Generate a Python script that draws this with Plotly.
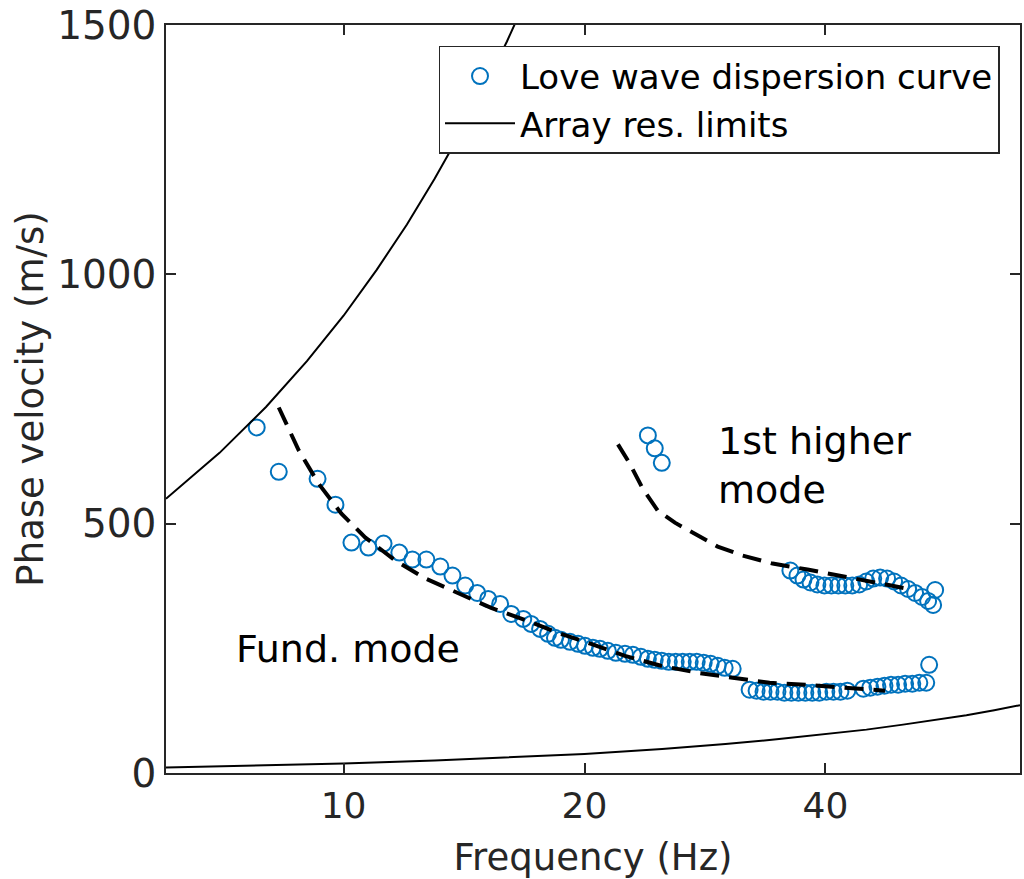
import plotly.graph_objects as go

# ---- data ----
# Love wave dispersion curve, fundamental mode (frequency Hz, phase velocity m/s)
fund_freq = [7.79, 8.30, 9.28, 9.77, 10.23, 10.74, 11.22, 11.74, 12.19, 12.69, 13.21,
             13.68, 14.19, 14.69, 15.16, 15.69, 16.20, 16.77, 17.15, 17.60, 18.01,
             18.37, 18.69, 19.18, 19.63, 20.03, 20.49, 20.91, 21.39, 21.89, 22.47,
             22.99, 23.52, 24.00, 24.48, 24.98, 25.49, 26.00, 26.53, 27.07, 27.62,
             28.18, 28.75, 29.34, 29.93, 30.63,
             32.16, 32.81, 33.47, 34.15, 34.84, 35.54, 36.26, 37.00, 37.75, 38.51,
             39.29, 40.10, 40.93, 41.76, 42.60,
             44.6, 45.5, 46.45, 47.4, 48.3, 49.3, 50.3, 51.35, 52.4, 53.45, 53.9]
fund_vel = [693, 604, 590, 538, 462, 452, 460, 442, 428, 428, 414,
            396, 376, 361, 349, 339, 319, 309, 299, 289, 279,
            271, 267, 263, 259, 255, 251, 249, 245, 241, 239,
            237, 233, 229, 227, 225, 223, 223, 223, 223, 223,
            221, 219, 215, 211, 209,
            167, 165, 163, 163, 163, 161, 161, 161, 161, 161,
            161, 163, 163, 163, 165,
            169, 171, 173, 175, 177, 177, 179, 179, 181, 181, 217]

# Love wave dispersion curve, 1st higher mode
high_freq = [24.0, 24.48, 24.98,
             36.16, 36.9, 37.55, 38.31, 39.08, 39.88, 40.69, 41.51, 42.35, 43.21,
             44.08, 44.98, 45.89, 46.82, 47.76, 48.73, 49.72, 50.74, 51.77, 52.82,
             53.74, 54.52, 54.84]
high_vel = [677, 651, 622,
            406, 396, 388, 382, 378, 376, 376, 376, 376, 376,
            378, 384, 390, 392, 390, 384, 376, 369, 361, 353,
            345, 337, 367]

# Theoretical (dashed) mode curves
fund_model_freq = [8.30, 8.79, 9.31, 9.94, 10.65, 11.61, 12.66, 13.91, 15.29, 16.86,
                   18.53, 20.38, 22.47, 24.92, 27.70, 30.63, 34.06, 37.75, 41.76, 47.5]
fund_model_vel = [733, 647, 580, 520, 472, 426, 390, 361, 331, 307,
                  281, 259, 235, 215, 201, 191, 181, 177, 171, 165]
high_model_freq = [22.02, 22.79, 23.65, 24.70, 25.94, 27.54, 29.34, 31.52, 34.36,
                   37.99, 42.0, 46.45, 50.88]
high_model_vel = [659, 620, 570, 526, 502, 478, 454, 436, 420, 408, 394, 380, 369]

# Array resolution limits
upper_lim_freq = [6, 7, 8, 9, 10, 11, 12, 13, 14, 15, 16, 16.4]
upper_lim_vel = [550, 642, 734, 826, 917, 1009, 1100, 1192, 1284, 1376, 1467, 1505]
lower_lim_freq = [6, 8, 10, 13, 16, 20, 25, 30, 35, 40, 45, 50, 55, 60, 65, 70]
lower_lim_vel = [11, 15, 19, 25, 31, 38, 48, 58, 68, 78, 87, 97, 107, 116, 126, 136]

x_ticks = [10, 20, 40]
y_ticks = [0, 500, 1000, 1500]

BLUE = "#0072BD"
FONT = "DejaVu Sans"
AX = "#262626"

fig = go.Figure()

circle = dict(symbol="circle-open", size=16, color=BLUE, line=dict(width=2, color=BLUE))

fig.add_trace(go.Scatter(x=fund_freq, y=fund_vel, mode="markers", marker=circle,
                         name="Love wave dispersion curve", legendgroup="data"))
fig.add_trace(go.Scatter(x=high_freq, y=high_vel, mode="markers", marker=circle,
                         name="Love wave dispersion curve", legendgroup="data",
                         showlegend=False))
fig.add_trace(go.Scatter(x=upper_lim_freq, y=upper_lim_vel, mode="lines",
                         line=dict(color="black", width=2),
                         name="Array res. limits", legendgroup="lim"))
fig.add_trace(go.Scatter(x=lower_lim_freq, y=lower_lim_vel, mode="lines",
                         line=dict(color="black", width=2),
                         name="Array res. limits", legendgroup="lim", showlegend=False))
fig.add_trace(go.Scatter(x=fund_model_freq, y=fund_model_vel, mode="lines",
                         line=dict(color="black", width=4, dash="19px,10px"),
                         showlegend=False))
fig.add_trace(go.Scatter(x=high_model_freq, y=high_model_vel, mode="lines",
                         line=dict(color="black", width=4, dash="19px,10px"),
                         showlegend=False))

fig.add_annotation(x=0.863, y=249, xref="x", yref="y", text="Fund. mode",
                   showarrow=False, xanchor="left", yanchor="middle",
                   font=dict(family=FONT, size=38, color="black"))
fig.add_annotation(x=1.465, y=616, xref="x", yref="y", text="1st higher<br>mode",
                   showarrow=False, xanchor="left", yanchor="middle", align="left",
                   font=dict(family=FONT, size=38, color="black"))

fig.update_layout(
    width=1024, height=879,
    margin=dict(l=166, r=2, t=25, b=106),
    paper_bgcolor="white", plot_bgcolor="white",
    font=dict(family=FONT, size=36, color=AX),
    showlegend=True,
    legend=dict(x=0.976, y=0.972, xanchor="right", yanchor="top",
                bgcolor="white", bordercolor=AX, borderwidth=1.5,
                font=dict(family=FONT, size=34, color="black"),
                tracegroupgap=0, itemwidth=70),
    xaxis=dict(type="log", range=[0.7782, 1.8451], tickvals=x_ticks,
               ticktext=[str(v) for v in x_ticks],
               tickfont=dict(family=FONT, size=36, color=AX),
               ticks="inside", ticklen=10, tickwidth=1.5, tickcolor=AX,
               showline=True, linecolor=AX, linewidth=1.5, mirror="ticks",
               showgrid=False, zeroline=False,
               title=dict(text="Frequency (Hz)", standoff=19,
                          font=dict(family=FONT, size=37, color=AX))),
    yaxis=dict(range=[0, 1500], tickvals=y_ticks,
               tickfont=dict(family=FONT, size=39, color=AX),
               ticks="inside", ticklen=10, tickwidth=1.5, tickcolor=AX,
               showline=True, linecolor=AX, linewidth=1.5, mirror="ticks",
               showgrid=False, zeroline=False,
               title=dict(text="Phase velocity (m/s)", standoff=2,
                          font=dict(family=FONT, size=37, color=AX))),
)

fig.write_html("out.html")
